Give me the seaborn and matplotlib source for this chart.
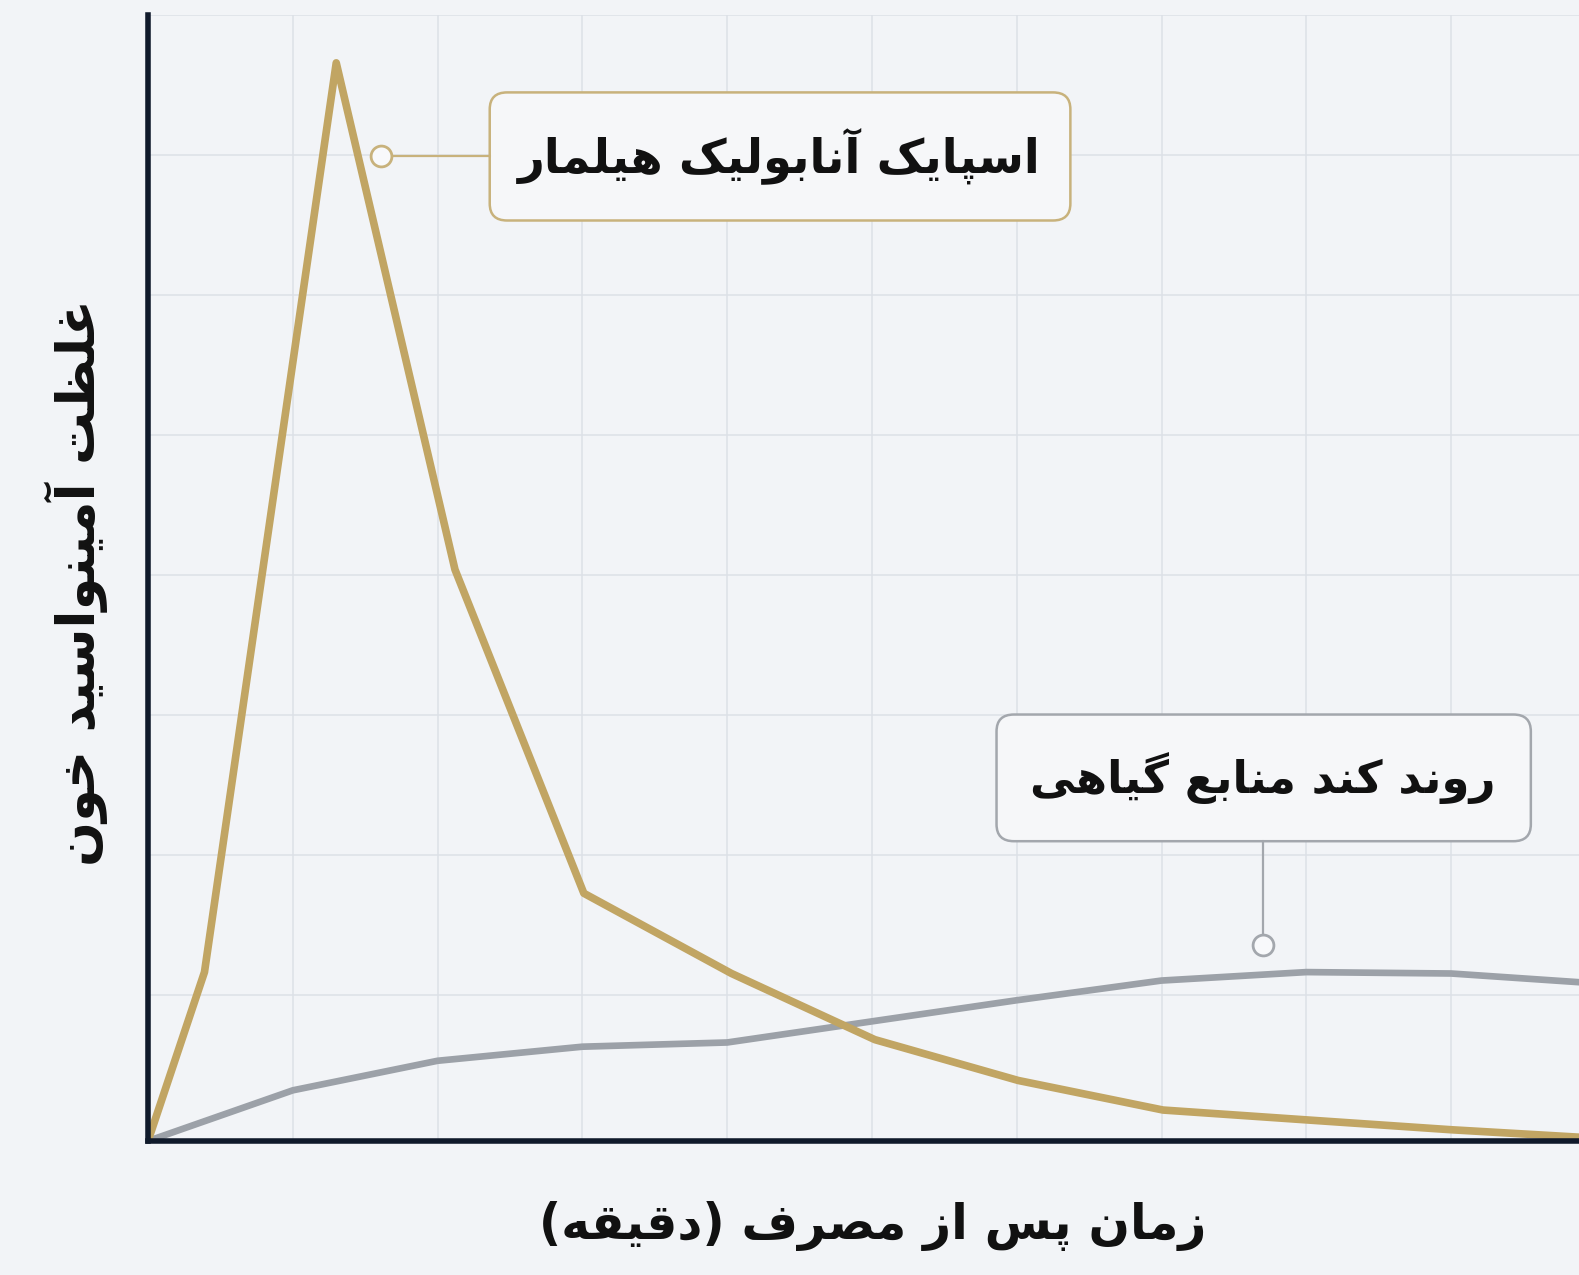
import numpy as np
import pandas as pd
import seaborn as sns
import matplotlib.pyplot as plt
from matplotlib.patches import FancyBboxPatch

# data (x = grid units, y = grid units)
time_gold = [0, 0.39, 1.3, 2.12, 3.01, 4.03, 5.02, 6.01, 7.01, 8.0, 9.0, 10.0]
conc_gold = [0, 1.20, 7.66, 4.06, 1.76, 1.19, 0.72, 0.43, 0.22, 0.15, 0.08, 0.02]
time_gray = [0, 1, 2, 3, 4, 5, 6, 7, 8, 9, 10]
conc_gray = [0, 0.36, 0.57, 0.67, 0.70, 0.85, 1.00, 1.14, 1.20, 1.19, 1.12]

label_gold = "اسپایک آنابولیک هیلمار"
label_gray = "روند کند منابع گیاهی"
ylabel = "غلظت آمینواسید خون"
xlabel = "زمان پس از مصرف (دقیقه)"

# matplotlib does no arabic shaping, so map letters to presentation forms
FORMS = {
    'ا': ('\uFE8D', '\uFE8E', None, None),
    'آ': ('\uFE81', '\uFE82', None, None),
    'د': ('\uFEA9', '\uFEAA', None, None),
    'ر': ('\uFEAD', '\uFEAE', None, None),
    'ز': ('\uFEAF', '\uFEB0', None, None),
    'و': ('\uFEED', '\uFEEE', None, None),
    'ب': ('\uFE8F', '\uFE90', '\uFE91', '\uFE92'),
    'پ': ('\uFB56', '\uFB57', '\uFB58', '\uFB59'),
    'ت': ('\uFE95', '\uFE96', '\uFE97', '\uFE98'),
    'خ': ('\uFEA5', '\uFEA6', '\uFEA7', '\uFEA8'),
    'س': ('\uFEB1', '\uFEB2', '\uFEB3', '\uFEB4'),
    'ص': ('\uFEB9', '\uFEBA', '\uFEBB', '\uFEBC'),
    'ظ': ('\uFEC5', '\uFEC6', '\uFEC7', '\uFEC8'),
    'ع': ('\uFEC9', '\uFECA', '\uFECB', '\uFECC'),
    'غ': ('\uFECD', '\uFECE', '\uFECF', '\uFED0'),
    'ف': ('\uFED1', '\uFED2', '\uFED3', '\uFED4'),
    'ق': ('\uFED5', '\uFED6', '\uFED7', '\uFED8'),
    'ک': ('\uFB8E', '\uFB8F', '\uFB90', '\uFB91'),
    'گ': ('\uFB92', '\uFB93', '\uFB94', '\uFB95'),
    'ل': ('\uFEDD', '\uFEDE', '\uFEDF', '\uFEE0'),
    'م': ('\uFEE1', '\uFEE2', '\uFEE3', '\uFEE4'),
    'ن': ('\uFEE5', '\uFEE6', '\uFEE7', '\uFEE8'),
    'ه': ('\uFEE9', '\uFEEA', '\uFEEB', '\uFEEC'),
    'ی': ('\uFBFC', '\uFBFD', '\uFBFE', '\uFBFF'),
}


def shape(text):
    out = []
    for i, c in enumerate(text):
        if c not in FORMS:
            out.append(c)
            continue
        prev = text[i - 1] if i > 0 else None
        nxt = text[i + 1] if i + 1 < len(text) else None
        iso, fin, ini, med = FORMS[c]
        jp = prev in FORMS and FORMS[prev][2] is not None
        jn = ini is not None and nxt in FORMS
        if jp and jn:
            out.append(med)
        elif jp:
            out.append(fin)
        elif jn:
            out.append(ini)
        else:
            out.append(iso)
    vis = ''.join(reversed(out))
    # visual order flips the brackets too
    return vis.translate(str.maketrans('()', ')('))


bg = '#f2f4f7'
gold = '#c1a563'
gray = '#9ca1a8'
navy = '#101a2b'

sns.set_theme(style="whitegrid")
plt.rcParams['font.family'] = ['DejaVu Sans']

W, H = 1579, 1275
fig = plt.figure(figsize=(W / 100, H / 100), dpi=100, facecolor=bg)
ax = fig.add_axes([148 / W, (H - 1141) / H, 1448 / W, 1126 / H])
ax.set_facecolor(bg)

sns.lineplot(x=time_gray, y=conc_gray, ax=ax, color=gray, linewidth=4.8)
sns.lineplot(x=time_gold, y=conc_gold, ax=ax, color=gold, linewidth=5.5)

ax.set_xlim(0, 10)
ax.set_ylim(0, 8)
ax.set_xticks(np.arange(1, 10))
ax.set_yticks(np.linspace(1.04, 8, 8))
ax.tick_params(length=0, labelbottom=False, labelleft=False)
ax.grid(True, color='#dde1e7', linewidth=1.1)
for s in ['top', 'right']:
    ax.spines[s].set_visible(False)
for s in ['left', 'bottom']:
    ax.spines[s].set_color(navy)
    ax.spines[s].set_linewidth(4)
ax.set_xlabel('')
ax.set_ylabel('')

# callout for the spike
ax.add_patch(FancyBboxPatch((2.36, 6.54), 4.01, 0.91, boxstyle='round,pad=0,rounding_size=0.12',
                            facecolor='#f6f7f9', edgecolor='#c8b27c', linewidth=1.8, zorder=4))
ax.text(4.36, 7.0, shape(label_gold), ha='center', va='center', fontsize=33.5,
        fontweight='bold', color='#111111', zorder=5)
ax.plot([1.61, 2.36], [7.0, 7.0], color='#c8b27c', linewidth=1.6, zorder=4)
ax.plot([1.61], [7.0], marker='o', markersize=15, markerfacecolor='#f8f9fb',
        markeredgecolor='#c8b27c', markeredgewidth=2, zorder=5)

# callout for the slow curve
ax.add_patch(FancyBboxPatch((5.86, 2.13), 3.69, 0.90, boxstyle='round,pad=0,rounding_size=0.12',
                            facecolor='#f6f7f9', edgecolor='#a3a7ad', linewidth=1.8, zorder=4))
ax.text(7.70, 2.58, shape(label_gray), ha='center', va='center', fontsize=32.5,
        fontweight='bold', color='#111111', zorder=5)
ax.plot([7.70, 7.70], [1.39, 2.13], color='#a3a7ad', linewidth=1.6, zorder=4)
ax.plot([7.70], [1.39], marker='o', markersize=15, markerfacecolor='#f8f9fb',
        markeredgecolor='#a3a7ad', markeredgewidth=2, zorder=5)

fig.text(76 / W, 1 - 583 / H, shape(ylabel), rotation=90, ha='center', va='center',
         fontsize=38, fontweight='bold', color='#111111')
fig.text(873 / W, 1 - 1226 / H, shape(xlabel), ha='center', va='center',
         fontsize=35, fontweight='bold', color='#111111')

plt.savefig('out.png', dpi=100, facecolor=bg)
